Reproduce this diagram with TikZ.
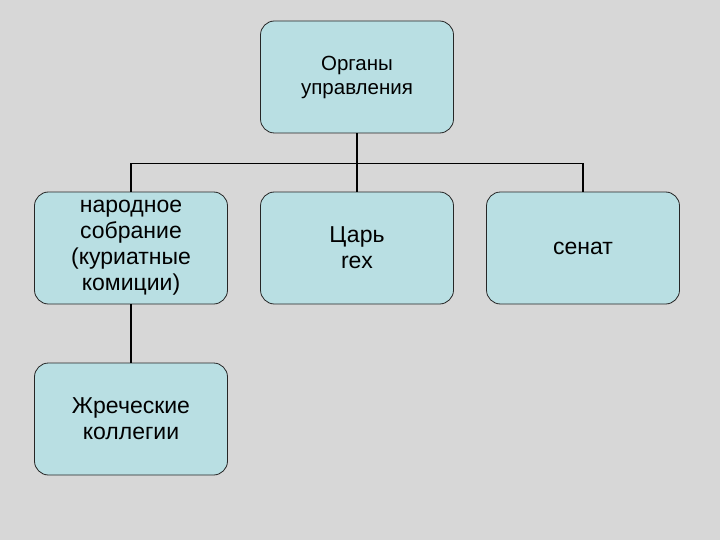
\documentclass[tikz,border=0pt]{standalone}
\usepackage{fontspec}
\setmainfont{Liberation Sans}
\usepackage{xcolor}
\usepackage{tikz}
\definecolor{boxfill}{HTML}{B9DFE3}
\definecolor{slidebg}{HTML}{D7D7D7}

\begin{document}
\begin{tikzpicture}
            [x=1bp, y=1bp,
            every node/.style={rectangle, rounded corners=14bp, draw=black!85, line width=0.8bp,
              fill=boxfill, minimum width=193bp, minimum height=112bp, align=center,
              inner sep=2bp, font=\fontsize{23bp}{26bp}\selectfont},
            level/.style={sibling distance=226bp},
            level distance=171bp,
            edge from parent/.style={draw, line width=1.6bp},
            edge from parent path={(\tikzparentnode.south) -- +(0,-30bp) -| (\tikzchildnode.north)}]

            \fill[slidebg] (0,0) rectangle (720,-540);
            \useasboundingbox (0,0) rectangle (720,-540);

            \node (organs) at (357,-77) [font=\fontsize{20.5bp}{24bp}\selectfont] {Органы\\управления}
            child {
                node (assembly) {народное\\собрание\\(куриатные\\комиции)}
                child {
                    node (colleges) {Жреческие\\коллегии}
                }
            }
            child {
                node (rex) {Царь\\rex}
            }
            child {
                node (senate) {сенат}
            };
        \end{tikzpicture}
\end{document}
